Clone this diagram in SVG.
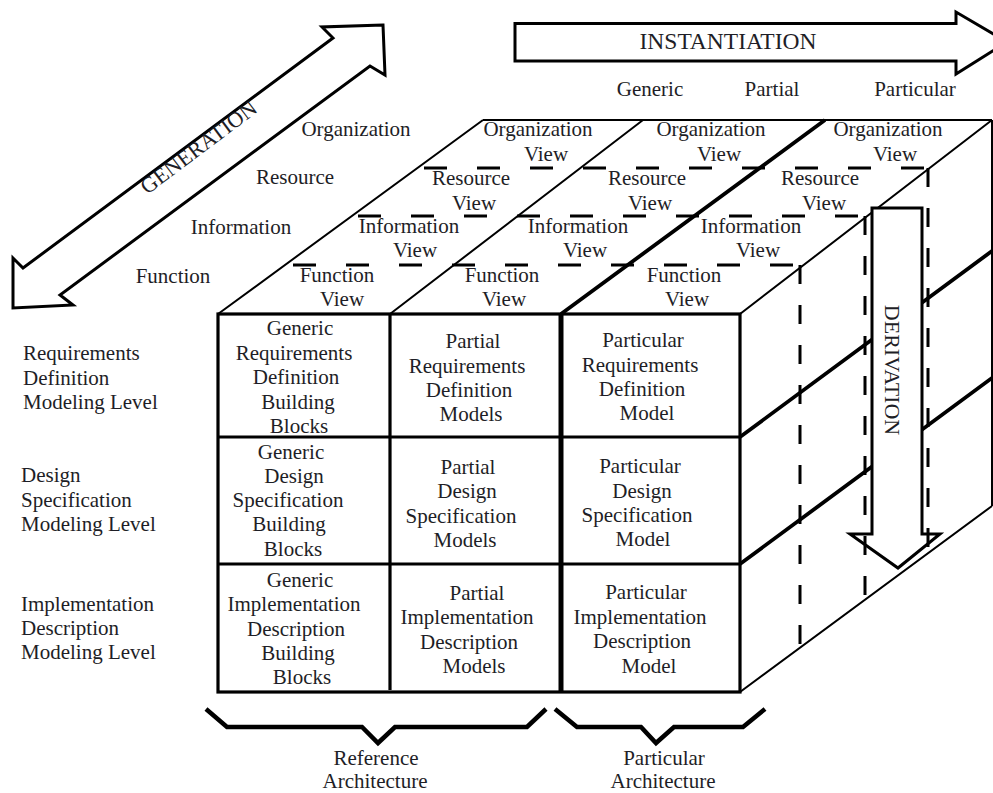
<svg xmlns="http://www.w3.org/2000/svg" width="993" height="793" viewBox="0 0 993 793" font-family="Liberation Serif, DejaVu Serif, serif">
<style>
text{font-size:21px;fill:#1e1e26}
.m{text-anchor:middle}
.thin{stroke:#000;stroke-width:2;fill:none}
.thk{stroke:#000;stroke-width:3.2;fill:none}
.rthk{stroke:#000;stroke-width:3.8;fill:none}
.xthk{stroke:#000;stroke-width:5;fill:none}
.dh{stroke:#000;stroke-width:3;stroke-dasharray:23 30;fill:none}
.dv{stroke:#000;stroke-width:3;stroke-dasharray:19 21;fill:none}
.arr{fill:#fff;stroke:#000;stroke-width:3;stroke-linejoin:miter}
.br{fill:none;stroke:#000;stroke-width:4.5;stroke-linejoin:miter}
</style>
<rect x="0" y="0" width="993" height="793" fill="#fff"/>

<g id="cube-lines">
  <path class="thin" d="M483,120 H992 M218,314 L483,120 M390,314 L643,120 M740,314 L992,120 M740,692 L992,506 M992,120 V506"/>
  <path class="rthk" d="M561,314 L825,120 M740,437 L992,251 M740,564 L992,378"/>
  <path class="dh" stroke-dashoffset="46" d="M417,168 H928"/>
  <path class="dh" stroke-dashoffset="47" d="M352,216 H865"/>
  <path class="dh" stroke-dashoffset="45" d="M285,265 H800"/>
  <rect class="thk" x="218" y="314" width="522" height="378"/>
  <path class="thk" d="M218,437 H740 M218,564 H740 M390,314 V690"/>
  <path class="xthk" d="M561,314 V692"/>
</g>

<g id="derivation">
  <polygon class="arr" points="872,208 922,208 922,534 940,534 898,568 850,534 872,534"/>
  <text transform="translate(885,370) rotate(90)" class="m" style="font-size:22px">DERIVATION</text>
</g>

<g id="layer-dashes">
  <path class="dv" d="M800,265 V649 M865,216 V600 M928,168 V554"/>
</g>

<g id="instantiation">
  <polygon class="arr" points="515,23.5 956,23.5 956,12 1007,42 956,74 956,61 515,61"/>
  <text x="728" y="49" class="m" style="font-size:23.5px">INSTANTIATION</text>
</g>

<g id="generation">
  <polygon class="arr" stroke-width="2.5" points="383,25 322,27 333,38 23,268 13,258 13,308 73,305 60,295 370,66 385,75"/>
  <text transform="translate(203,153) rotate(-37)" class="m" style="font-size:22px">GENERATION</text>
</g>

<g id="instantiation-labels">
  <text x="650" y="96" class="m">Generic</text>
  <text x="772" y="96" class="m">Partial</text>
  <text x="915" y="96" class="m">Particular</text>
</g>

<g id="view-labels">
  <text x="356" y="136" class="m">Organization</text>
  <text x="295" y="184" class="m">Resource</text>
  <text x="241" y="234" class="m">Information</text>
  <text x="173" y="283" class="m">Function</text>
</g>

<g id="top-views">
  <g id="org-view-0"><text x="538" y="136" class="m">Organization</text><text x="546" y="161" class="m">View</text></g>
  <g id="org-view-1"><text x="711" y="136" class="m">Organization</text><text x="719" y="161" class="m">View</text></g>
  <g id="org-view-2"><text x="888" y="136" class="m">Organization</text><text x="895" y="161" class="m">View</text></g>
  <g id="res-view-0"><text x="471" y="185" class="m">Resource</text><text x="474" y="210" class="m">View</text></g>
  <g id="res-view-1"><text x="647" y="185" class="m">Resource</text><text x="650" y="210" class="m">View</text></g>
  <g id="res-view-2"><text x="820" y="185" class="m">Resource</text><text x="824" y="210" class="m">View</text></g>
  <g id="inf-view-0"><text x="409" y="233" class="m">Information</text><text x="415" y="257" class="m">View</text></g>
  <g id="inf-view-1"><text x="578" y="233" class="m">Information</text><text x="585" y="257" class="m">View</text></g>
  <g id="inf-view-2"><text x="751" y="233" class="m">Information</text><text x="758" y="257" class="m">View</text></g>
  <g id="fun-view-0"><text x="337" y="282" class="m">Function</text><text x="342" y="306" class="m">View</text></g>
  <g id="fun-view-1"><text x="502" y="282" class="m">Function</text><text x="504" y="306" class="m">View</text></g>
  <g id="fun-view-2"><text x="684" y="282" class="m">Function</text><text x="687" y="306" class="m">View</text></g>
</g>

<g id="levels">
  <g id="level-req"><text x="23" y="360">Requirements</text><text x="23" y="385">Definition</text><text x="23" y="409">Modeling Level</text></g>
  <g id="level-des"><text x="21" y="482">Design</text><text x="21" y="507">Specification</text><text x="21" y="531">Modeling Level</text></g>
  <g id="level-imp"><text x="21" y="611">Implementation</text><text x="21" y="635">Description</text><text x="21" y="659">Modeling Level</text></g>
</g>

<g id="cell-generic-req">
  <text x="300" y="335" class="m">Generic</text><text x="294" y="359.5" class="m">Requirements</text><text x="296" y="384" class="m">Definition</text><text x="298" y="408.5" class="m">Building</text><text x="299" y="433" class="m">Blocks</text>
</g>
<g id="cell-generic-des">
  <text x="291" y="458.5" class="m">Generic</text><text x="294" y="482.8" class="m">Design</text><text x="288" y="507.1" class="m">Specification</text><text x="289" y="531.4" class="m">Building</text><text x="293" y="555.7" class="m">Blocks</text>
</g>
<g id="cell-generic-imp">
  <text x="300" y="587" class="m">Generic</text><text x="294" y="611.3" class="m">Implementation</text><text x="296" y="635.6" class="m">Description</text><text x="298" y="659.9" class="m">Building</text><text x="302" y="684" class="m">Blocks</text>
</g>
<g id="cell-partial-req">
  <text x="473" y="348" class="m">Partial</text><text x="467" y="372.5" class="m">Requirements</text><text x="469" y="397" class="m">Definition</text><text x="471" y="421" class="m">Models</text>
</g>
<g id="cell-partial-des">
  <text x="468" y="474" class="m">Partial</text><text x="467" y="498.3" class="m">Design</text><text x="461" y="522.6" class="m">Specification</text><text x="465" y="547" class="m">Models</text>
</g>
<g id="cell-partial-imp">
  <text x="477" y="600" class="m">Partial</text><text x="467" y="624.3" class="m">Implementation</text><text x="469" y="648.6" class="m">Description</text><text x="474" y="673" class="m">Models</text>
</g>
<g id="cell-particular-req">
  <text x="643" y="347" class="m">Particular</text><text x="640" y="371.5" class="m">Requirements</text><text x="642" y="396" class="m">Definition</text><text x="647" y="420" class="m">Model</text>
</g>
<g id="cell-particular-des">
  <text x="640" y="473" class="m">Particular</text><text x="642" y="497.5" class="m">Design</text><text x="637" y="522" class="m">Specification</text><text x="643" y="546" class="m">Model</text>
</g>
<g id="cell-particular-imp">
  <text x="646" y="599" class="m">Particular</text><text x="640" y="623.7" class="m">Implementation</text><text x="642" y="648.3" class="m">Description</text><text x="649" y="673" class="m">Model</text>
</g>

<g id="architectures">
  <polyline class="br" points="206,709 227,727 362,727 378,743 395,727 527,727 546,709"/>
  <polyline class="br" points="555,709 577,727 641,727 656,743 674,727 743,727 765,709"/>
  <g id="ref-arch"><text x="376" y="765" class="m">Reference</text><text x="375" y="788" class="m">Architecture</text></g>
  <g id="part-arch"><text x="664" y="765" class="m">Particular</text><text x="663" y="788" class="m">Architecture</text></g>
</g>
</svg>
